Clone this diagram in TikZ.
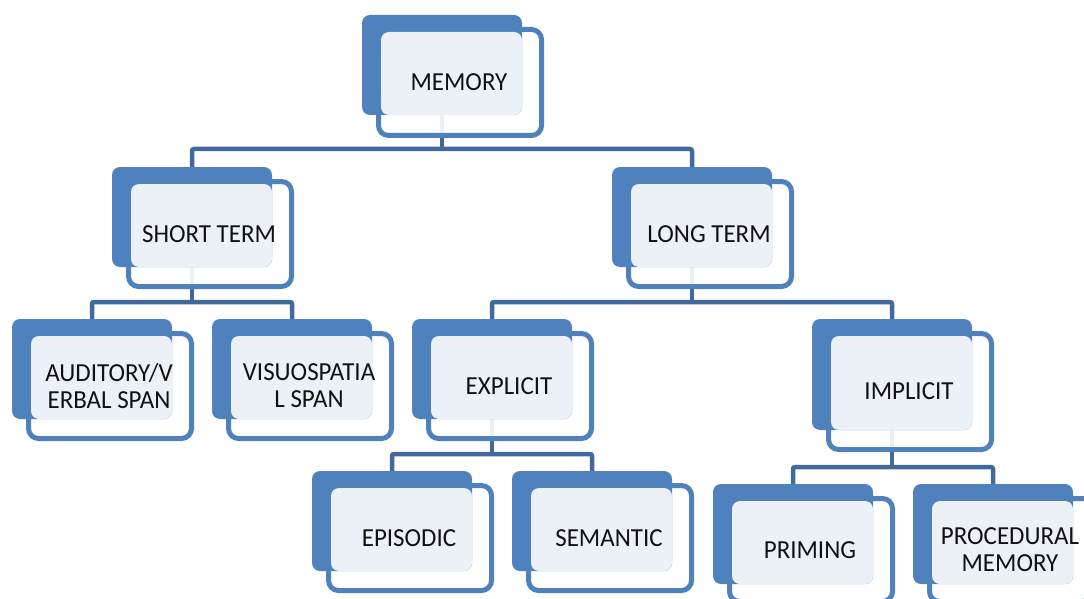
\documentclass[tikz,border=0pt]{standalone}
\usepackage{fontspec}
\setmainfont[FakeStretch=0.96]{Carlito}
\usetikzlibrary{calc}
\definecolor{accent}{HTML}{4F81BD}
\definecolor{conncol}{HTML}{41699C}
\definecolor{lightfill}{HTML}{ECF1F8}
\definecolor{txt}{HTML}{111111}
\pgfdeclarelayer{bg}
\pgfsetlayers{bg,main}
\tikzset{
 conn/.style={draw=conncol, line width=4.5pt, rounded corners=2pt},
 backbox/.style={fill=accent, rounded corners=8pt, draw=none, inner sep=0pt, rectangle},
 frontbox/.style={draw=accent, line width=5pt, fill=white, fill opacity=0.9, draw opacity=1, rounded corners=10pt},
 lightbox/.style={fill=lightfill, rounded corners=8pt},
 lbl/.style={font=\fontsize{26}{27}\selectfont, text=txt, align=center, inner sep=0pt}
}
% #1 name, #2 back x, #3 back y, #4 back height, #5 front height, #6 text
\newcommand\memnode[6]{%
  \path[frontbox] ({#2+16.5},{#3+14.5}) rectangle ({#2+179.5},{#3+9.5+#5});
  \node[backbox, minimum width=160pt, minimum height=#4 pt] (#1) at ({#2+80},{#3+#4/2}) {};
  \path[lightbox] ({#2+19},{#3+17}) rectangle ({#2+160},{#3+#4});
  \node[lbl] (#1-t) at ({#2+97},{#3+12+#5/2}) {#6};
}
\begin{document}
\begin{tikzpicture}[x=1pt,y=-1pt]
\useasboundingbox (0,0) rectangle (1084,599);
\memnode{memory}{362}{15}{100}{111}{MEMORY}
\memnode{st}{112}{167}{100}{110}{SHORT TERM}
\memnode{lt}{612}{167}{100}{110}{LONG TERM}
\memnode{aud}{12}{319}{100}{110}{AUDITORY/V\\ERBAL SPAN}
\memnode{vis}{212}{319}{100}{110}{VISUOSPATIA\\L SPAN}
\memnode{exp}{412}{319}{100}{110}{EXPLICIT}
\memnode{imp}{812}{319}{111}{121}{IMPLICIT}
\memnode{epi}{312}{471}{100}{110}{EPISODIC}
\memnode{sem}{512}{471}{100}{110}{SEMANTIC}
\memnode{pri}{713}{484}{100}{108}{PRIMING}
\memnode{proc}{913}{484}{100}{108}{PROCEDURAL\\MEMORY}
\coordinate (j1) at (442,149);
\coordinate (j2) at (192,302);
\coordinate (j3) at (692,302);
\coordinate (j4) at (492,454);
\coordinate (j5) at (892,467);
\begin{pgfonlayer}{bg}
\draw[conn] (memory.south) -- (j1);
\draw[conn] (st.north) |- (j1) -| (lt.north);
\draw[conn] (st.south) -- (j2);
\draw[conn] (aud.north) |- (j2) -| (vis.north);
\draw[conn] (lt.south) -- (j3);
\draw[conn] (exp.north) |- (j3) -| (imp.north);
\draw[conn] (exp.south) -- (j4);
\draw[conn] (epi.north) |- (j4) -| (sem.north);
\draw[conn] (imp.south) -- (j5);
\draw[conn] (pri.north) |- (j5) -| (proc.north);
\end{pgfonlayer}
\end{tikzpicture}
\end{document}
